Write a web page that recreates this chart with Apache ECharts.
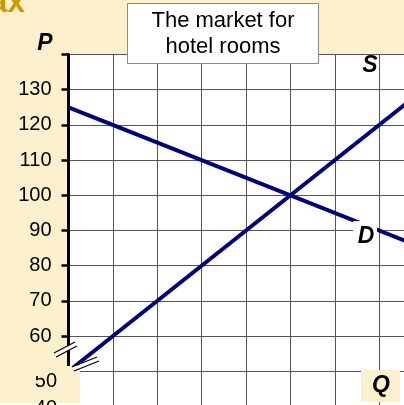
<!DOCTYPE html>
<html><head><meta charset="utf-8">
<script src="https://cdn.jsdelivr.net/npm/echarts@6/dist/echarts.min.js"></script>
<style>html,body{margin:0;padding:0;background:#fdf0cd;}#c{width:404px;height:405px;}</style>
</head><body><div id="c"></div>
<script>
// Quantity grid positions (Q units) at the line ends
const quantities = [0, 8];
// Demand and supply prices at those quantities
const demandPrices = [125, 85];
const supplyPrices = [50, 130];
// Price axis ticks
const priceTicks = [40, 50, 60, 70, 80, 90, 100, 110, 120, 130, 140];
const shownPriceLabels = [60, 70, 80, 90, 100, 110, 120, 130];
const brokenLabels = ['50', '40'];
const titleLines = ['The market for', 'hotel rooms'];

const FONT = '"Liberation Sans", Arial, sans-serif';
const navy = '#000080';
const chart = echarts.init(document.getElementById('c'), null, {renderer: 'canvas'});

function pairs(xs, ys) { return xs.map((x, i) => [x, ys[i]]); }

function txt(text, x, y, opt) {
  return {
    type: 'text', z: 120,
    style: Object.assign({text: text, x: x, y: y, align: 'center', verticalAlign: 'middle',
      font: 'italic bold 23px ' + FONT, fill: '#000'}, opt || {})
  };
}

chart.setOption({
  backgroundColor: '#fdf0cd',
  animation: false,
  grid: {left: 68.5, top: 54.5, width: 355.2, height: 352, outerBoundsMode: 'none', containLabel: false,
         backgroundColor: '#fff', show: true, borderWidth: 0},
  xAxis: {
    type: 'value', min: 0, max: 8, interval: 1,
    axisLine: {show: false}, axisTick: {show: false}, axisLabel: {show: false},
    splitLine: {show: true, lineStyle: {color: '#555', width: 1}}
  },
  yAxis: {
    type: 'value', min: priceTicks[0], max: priceTicks[priceTicks.length - 1], interval: 10,
    axisLine: {show: true, onZero: false, lineStyle: {color: '#000', width: 3}},
    axisTick: {show: true, length: 7, lineStyle: {color: '#000', width: 2.5}},
    axisLabel: {
      margin: 17, fontSize: 20, color: '#000', fontFamily: FONT,
      formatter: v => shownPriceLabels.indexOf(v) >= 0 ? String(v) : ''
    },
    splitLine: {show: true, lineStyle: {color: '#555', width: 1}}
  },
  series: [
    {type: 'line', name: 'D', data: pairs(quantities, demandPrices), symbol: 'none',
     lineStyle: {color: navy, width: 4}, clip: true, z: 3},
    {type: 'line', name: 'S', data: pairs(quantities, supplyPrices), symbol: 'none',
     lineStyle: {color: navy, width: 4}, clip: true, z: 3}
  ],
  graphic: [
    // top-left cut title
    {type: 'text', z: 120, style: {text: 'Tax', x: 25, y: 19, align: 'right', verticalAlign: 'bottom',
      font: 'bold 32px ' + FONT, fill: '#cc9900'}},
    // title box
    {type: 'rect', z: 110, shape: {x: 127.5, y: 3.5, width: 191, height: 60},
     style: {fill: '#fff', stroke: '#888', lineWidth: 1}},
    txt(titleLines[0], 223, 21, {font: '22px ' + FONT}),
    txt(titleLines[1], 223, 47, {font: '22px ' + FONT}),
    // axis letters
    txt('P', 45, 44),
    txt('S', 370, 66),
    {type: 'rect', z: 110, shape: {x: 353, y: 221, width: 24, height: 30}, style: {fill: '#fff'}},
    txt('D', 366, 237),
    {type: 'rect', z: 110, shape: {x: 361, y: 370, width: 39, height: 32}, style: {fill: '#fdf0cd'}},
    txt('Q', 381, 386),
    // lower-left cover box
    {type: 'rect', z: 110, shape: {x: 0, y: 366, width: 80, height: 37}, style: {fill: '#fdf0cd'}},
    {type: 'rect', z: 110, shape: {x: 0, y: 403, width: 80, height: 3}, style: {fill: '#fff'}},
    txt(brokenLabels[0], 57, 381, {align: 'right', font: '20px ' + FONT}),
    {type: 'rect', z: 121, shape: {x: 27, y: 368, width: 20, height: 8}, style: {fill: '#fdf0cd'}},
    txt(brokenLabels[1], 57, 408, {align: 'right', font: '20px ' + FONT}),
    // axis break marks
    {type: 'line', z: 115, shape: {x1: 55, y1: 355, x2: 76, y2: 344}, style: {stroke: '#fff', lineWidth: 4}},
    {type: 'line', z: 116, shape: {x1: 54, y1: 353, x2: 75, y2: 342}, style: {stroke: '#000', lineWidth: 1.3}},
    {type: 'line', z: 116, shape: {x1: 56, y1: 357, x2: 77, y2: 346}, style: {stroke: '#000', lineWidth: 1.3}},
    {type: 'line', z: 115, shape: {x1: 73, y1: 369, x2: 98, y2: 359}, style: {stroke: '#fff', lineWidth: 4}},
    {type: 'line', z: 116, shape: {x1: 72, y1: 367, x2: 97, y2: 357}, style: {stroke: '#000', lineWidth: 1.3}},
    {type: 'line', z: 116, shape: {x1: 74, y1: 371, x2: 99, y2: 361}, style: {stroke: '#000', lineWidth: 1.3}}
  ]
});
</script></body></html>
